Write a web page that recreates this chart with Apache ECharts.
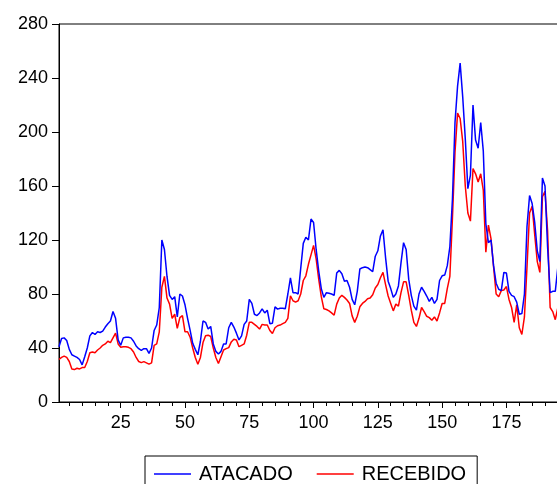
<!DOCTYPE html>
<html>
<head>
<meta charset="utf-8">
<script src="https://cdn.jsdelivr.net/npm/echarts@6/dist/echarts.min.js"></script>
<style>
html,body{margin:0;padding:0;background:#fff;}
#c{width:557px;height:484px;}
</style>
</head>
<body>
<div id="c"></div>
<script>
var seriesNames = ['ATACADO', 'RECEBIDO'];
var firstObs = 1;
var atacado = [41,47,47.5,45.5,39,35,34,33,31.5,27.5,33.5,40,49,51.5,50,52,51.5,52.5,55.5,58,
60,67,62,46,42,47.5,48,48,47.5,45,41.5,39.5,38.3,39.5,39.5,36,40,53,57,70,
120,113,93,79,76,78,63,80,78.5,72,62,53,43.5,39,35,45,60,59,54,56,
43,37.5,35.5,37.5,43,43,55,59,55.5,51,46,49,57.5,60,76,73,65,64,66,69,
66,68,58,58.4,70.5,68.8,69.5,69.5,69,80,92,81,81,80,99,117.5,122,120,135.5,133,
113,97,84,77.5,81,80.5,80,79,95.5,97.5,95,89.5,90,85,76,72,82,98.5,99.5,100,
99.5,98,96.5,108,112,123,127.5,107,89.5,84,77.5,80,86,103,118,113,91,79,71,68,
80,85,82,78.5,74.5,77.5,73,76,90,93.5,94,101,115,150,207,234,251,226,195,158,
168,220,194,188,207,186,132,118,120,101,88,83.5,82.5,96,95.5,82,79,78,74,65,
65.5,80,130,153,147,133,112,104,166,160,115,81,82,82,100];
var recebido = [31.5,33,34,33,30,24.5,24,25,24.5,25.5,25.5,30,36.5,37,36.5,38.5,40,42,43,45,
44,47.5,51,43,40.5,41,41,40.5,39.5,37,33,30,29.2,29.9,29,28,29,42,43,52,
85,93,77,72.5,62,65,54.5,62.5,64,52,52,48,40,33,28,33,44,49,49.5,48.5,
40,33,28.5,33.5,38.5,39.5,40.3,44.5,46.5,46,41,42,43,49.5,59,59,57.5,56,54,57.5,
57,57,53,50.7,55,56.5,57,58,59,62,78.7,75,74,75,80,90,93.5,102,109,116,
106,91,78,69,68.5,67.5,66,64.3,72.5,77,79,77.5,75.5,73,63.8,59,63.5,70.5,73,74.5,
76.5,77,79.5,84.5,87,92,96,87,78.5,73,67.5,72.5,71,81,89,89,79,68,59,56,
62,70,67,63.5,62.5,60.5,63,60,66,73,73,84,93,136,185,214,210,193,160,140,
134,173,169,163,169,157,111,131,121,100,80,78,82.5,83,85.5,76,70,59,72,55,
50,63,100,140,145,124,104,96,152,156,127,70,67,61,70];
var yMin = 0, yMax = 280, yStep = 40;
var xMin = 1, xMax = 197;
var majorTicks = [25,50,75,100,125,150,175];
var minorTicks = [5,10,15,20,30,35,40,45,55,60,65,70,80,85,90,95,105,110,115,120,130,135,140,145,155,160,165,170,180,185,190,195];

function toPairs(arr){ return arr.map(function(v,k){ return [firstObs + k, v]; }); }

var font = '"Liberation Sans", Arial, sans-serif';
var chart = echarts.init(document.getElementById('c'), null, {renderer:'canvas'});
chart.setOption({
  animation:false,
  backgroundColor:'#fff',
  grid:{left:59, top:24, width:504, height:378, show:true, borderColor:'#000', borderWidth:1, backgroundColor:'transparent', containLabel:false, outerBoundsMode:'none'},
  legend:{
    data:seriesNames, left:145, top:456, orient:'horizontal',
    borderColor:'#000', borderWidth:1, padding:[8,11,8,9], itemGap:24,
    itemWidth:37, itemHeight:1.5, icon:'rect',
    textStyle:{fontSize:20, color:'#000', fontFamily:font, padding:[0,0,0,3]}
  },
  xAxis:[{
    type:'value', min:xMin, max:xMax, position:'bottom',
    axisLine:{show:true, lineStyle:{color:'#000', width:1}},
    axisTick:{show:true, customValues:majorTicks, length:6, lineStyle:{color:'#000'}},
    axisLabel:{show:true, customValues:majorTicks, fontSize:18, color:'#000', fontFamily:font, margin:12},
    splitLine:{show:false}
  },{
    type:'value', min:xMin, max:xMax, position:'bottom', offset:0,
    axisLine:{show:false},
    axisTick:{show:true, customValues:minorTicks, length:4, lineStyle:{color:'#000'}},
    axisLabel:{show:false},
    splitLine:{show:false}
  }],
  yAxis:{
    type:'value', min:yMin, max:yMax, interval:yStep,
    axisLine:{show:true, lineStyle:{color:'#000', width:1}},
    axisTick:{show:true, length:7, lineStyle:{color:'#000'}},
    axisLabel:{fontSize:18, color:'#000', fontFamily:font, margin:11},
    splitLine:{show:false}
  },
  series:[
    {name:seriesNames[0], type:'line', xAxisIndex:0, data:toPairs(atacado), symbol:'none', color:'#0000ff', lineStyle:{color:'#0000ff', width:1.5}, z:3},
    {name:seriesNames[1], type:'line', xAxisIndex:0, data:toPairs(recebido), symbol:'none', color:'#ff0000', lineStyle:{color:'#ff0000', width:1.5}, z:2}
  ]
});
</script>
</body>
</html>
